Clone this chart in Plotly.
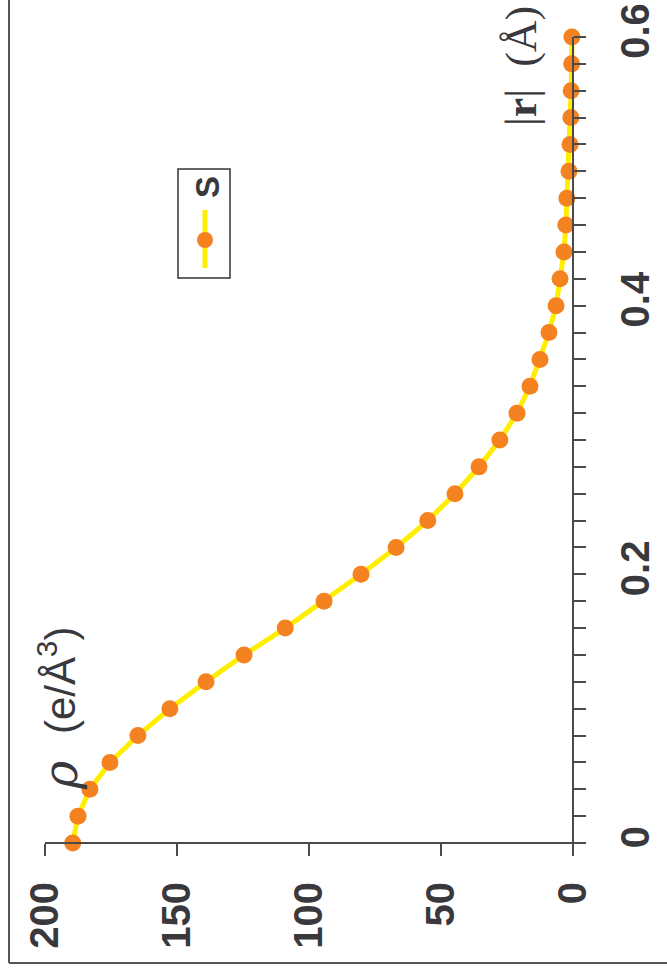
import plotly.graph_objects as go

# data: radius |r| (Å) and density rho (e/Å^3)
r_vals = [0.00, 0.02, 0.04, 0.06, 0.08, 0.10, 0.12, 0.14, 0.16, 0.18, 0.20,
          0.22, 0.24, 0.26, 0.28, 0.30, 0.32, 0.34, 0.36, 0.38, 0.40,
          0.42, 0.44, 0.46, 0.48, 0.50, 0.52, 0.54, 0.56, 0.58, 0.60]
rho_vals = [189.5, 187.5, 183.0, 175.4, 164.8, 152.7, 139.0, 124.6, 109.0, 94.3, 80.3,
            67.0, 55.0, 44.7, 35.6, 27.7, 21.2, 16.3, 12.5, 9.1, 6.4,
            4.9, 3.4, 2.7, 2.3, 1.5, 1.1, 0.8, 0.7, 0.5, 0.4]
series_name = "S"
rho_ticks = [200, 150, 100, 50, 0]
r_ticks = [round(i * 0.02, 2) for i in range(31)]
r_labels = {0.0: "0", 0.2: "0.2", 0.4: "0.4", 0.6: "0.6"}

W, H = 667, 976
L, R, T, B = 45, 84, 37, 124
pw, ph = W - L - R, H - T - B

def px(xp):
    return (xp - L) / pw

def py(yp):
    return (H - B - yp) / ph

TXT = "#38383d"
AX = "#4a4a4a"
YEL = "#FFEE00"
ORG = "#F58220"

fig = go.Figure()
fig.add_trace(go.Scatter(
    x=rho_vals, y=r_vals, mode="lines+markers", name=series_name,
    line=dict(color=YEL, width=5),
    marker=dict(color=ORG, size=17, line=dict(width=0)),
    cliponaxis=False, showlegend=False,
))

tickfont = dict(family="Liberation Sans, Arial", size=40, color=TXT, weight="bold")

fig.update_layout(
    width=W, height=H,
    margin=dict(l=L, r=R, t=T, b=B, pad=0, autoexpand=False),
    plot_bgcolor="white", paper_bgcolor="white",
    showlegend=False,
    xaxis=dict(
        range=[200, -3.8], anchor="free", position=py(843), automargin=False,
        showgrid=False, zeroline=False,
        showline=True, linecolor=AX, linewidth=2,
        ticks="outside", ticklen=12, tickwidth=2, tickcolor=AX,
        tickvals=rho_ticks, ticktext=[str(v) for v in rho_ticks],
        tickangle=-90, tickfont=tickfont, ticklabelstandoff=10,
    ),
    yaxis=dict(
        range=[-0.0067, 0.6], anchor="free", position=px(573), side="right",
        automargin=False,
        showgrid=False, zeroline=False,
        showline=True, linecolor=AX, linewidth=2,
        ticks="outside", ticklen=12, tickwidth=2, tickcolor=AX,
        tickvals=r_ticks, ticktext=[r_labels.get(v, "") for v in r_ticks],
        tickangle=-90, tickfont=tickfont, ticklabelstandoff=15,
    ),
)

shapes = []
# outer frame (left and bottom edges visible)
shapes.append(dict(type="line", xref="paper", yref="paper",
                   x0=px(9), x1=px(9), y0=py(963), y1=py(-20),
                   line=dict(color="#555555", width=2)))
shapes.append(dict(type="line", xref="paper", yref="paper",
                   x0=px(9), x1=px(700), y0=py(963), y1=py(963),
                   line=dict(color="#555555", width=2)))
# legend box
shapes.append(dict(type="rect", xref="paper", yref="paper",
                   x0=px(178), x1=px(230), y0=py(278), y1=py(169),
                   line=dict(color="#333333", width=1.5), fillcolor="white"))
shapes.append(dict(type="line", xref="paper", yref="paper",
                   x0=px(205), x1=px(205), y0=py(268), y1=py(210),
                   line=dict(color=YEL, width=5)))
shapes.append(dict(type="circle", xref="paper", yref="paper",
                   xsizemode="pixel", ysizemode="pixel",
                   xanchor=px(205), yanchor=py(240),
                   x0=-8, x1=8, y0=-8, y1=8,
                   line=dict(width=0), fillcolor=ORG))
fig.update_layout(shapes=shapes)

annotations = [
    dict(text=f"<b>{series_name}</b>", xref="paper", yref="paper",
         x=px(207), y=py(187), xanchor="center", yanchor="middle",
         showarrow=False, textangle=-90,
         font=dict(family="Liberation Sans, Arial", size=33, color=TXT)),
    dict(text="<i>ρ</i>", xref="paper", yref="paper",
         x=px(60), y=py(776), xanchor="center", yanchor="middle",
         showarrow=False, textangle=-90,
         font=dict(family="DejaVu Serif", size=48, color=TXT)),
    dict(text="(e/Å<sup>3</sup>)", xref="paper", yref="paper",
         x=px(57), y=py(681), xanchor="center", yanchor="middle",
         showarrow=False, textangle=-90,
         font=dict(family="Liberation Sans, Arial", size=42, color=TXT)),
    dict(text="|<b>r</b>|  (Å)", xref="paper", yref="paper",
         x=px(521), y=py(66), xanchor="center", yanchor="middle",
         showarrow=False, textangle=-90,
         font=dict(family="Liberation Serif", size=44, color=TXT)),
]
fig.update_layout(annotations=annotations)

fig.write_html("out.html")
